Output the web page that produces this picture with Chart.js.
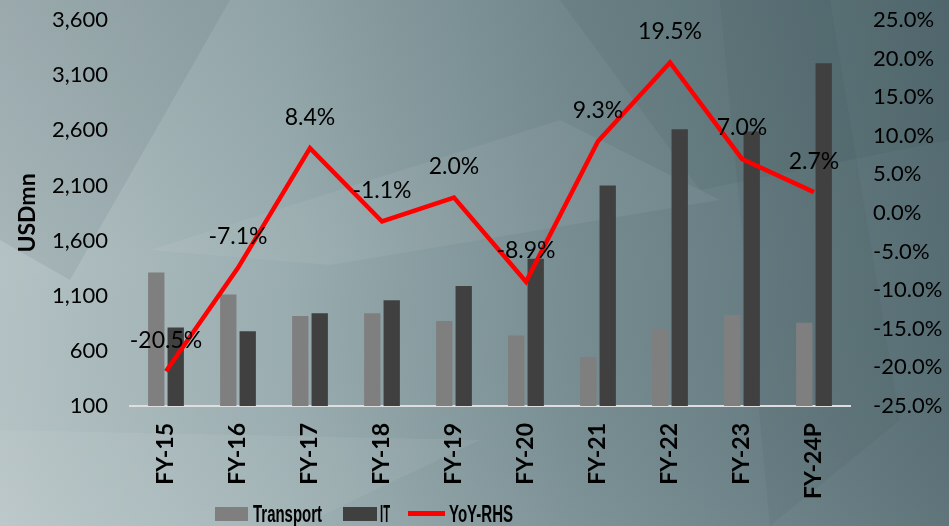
<!DOCTYPE html>
<html>
<head>
<meta charset="utf-8">
<script src="https://cdn.jsdelivr.net/npm/chart.js@4.4.0/dist/chart.umd.min.js"></script>
<style>
html,body{margin:0;padding:0;background:#8fa2a5;}
#wrap{width:949px;height:526px;position:relative;}
</style>
</head>
<body>
<div id="wrap"><canvas id="c" width="949" height="526"></canvas></div>
<script>
const categories = ['FY-15','FY-16','FY-17','FY-18','FY-19','FY-20','FY-21','FY-22','FY-23','FY-24P'];
const transport = [1310, 1110, 915, 940, 870, 740, 545, 800, 925, 855];
const it = [812, 778, 940, 1060, 1188, 1436, 2100, 2610, 2590, 3207];
const yoy = [-20.5, -7.1, 8.4, -1.1, 2.0, -8.9, 9.3, 19.5, 7.0, 2.7];
const yoyLabels = ['-20.5%','-7.1%','8.4%','-1.1%','2.0%','-8.9%','9.3%','19.5%','7.0%','2.7%'];
const leftTicks = [100, 600, 1100, 1600, 2100, 2600, 3100, 3600];
const rightTicks = [-25, -20, -15, -10, -5, 0, 5, 10, 15, 20, 25];

const FONT = 'Lato, "Liberation Sans", sans-serif';
const LEGFONT = '"Liberation Sans", sans-serif';

const bgPlugin = {
  id: 'bg',
  beforeDraw(chart) {
    const ctx = chart.ctx, w = chart.width, h = chart.height;
    ctx.save();
    const g = ctx.createLinearGradient(0, 0, w, 0);
    g.addColorStop(0, '#b4c2c4');
    g.addColorStop(0.3, '#9aadb0');
    g.addColorStop(0.6, '#778d92');
    g.addColorStop(1, '#566d73');
    ctx.fillStyle = g;
    ctx.fillRect(0, 0, w, h);
    const g2 = ctx.createLinearGradient(0, 0, 0, h);
    g2.addColorStop(0, 'rgba(60,80,85,0.12)');
    g2.addColorStop(0.5, 'rgba(60,80,85,0)');
    g2.addColorStop(1, 'rgba(255,255,255,0.06)');
    ctx.fillStyle = g2;
    ctx.fillRect(0, 0, w, h);
    const polys = [
      [[0,0],[230,0],[70,280],[0,240], 'rgba(60,80,85,0.10)'],
      [[150,250],[560,120],[720,200],[330,265], 'rgba(255,255,255,0.06)'],
      [[560,0],[949,0],[949,140],[700,190], 'rgba(40,60,65,0.08)'],
      [[0,430],[480,440],[300,526],[0,526], 'rgba(255,255,255,0.06)'],
      [[720,0],[830,0],[900,420],[770,526], 'rgba(30,50,55,0.06)']
    ];
    polys.forEach(p => {
      ctx.beginPath();
      for (let i = 0; i < p.length - 1; i++) {
        if (i === 0) ctx.moveTo(p[i][0], p[i][1]); else ctx.lineTo(p[i][0], p[i][1]);
      }
      ctx.closePath();
      ctx.fillStyle = p[p.length - 1];
      ctx.fill();
    });
    ctx.restore();
  }
};

const labelPlugin = {
  id: 'yoyLabels',
  afterDatasetsDraw(chart) {
    const meta = chart.getDatasetMeta(2);
    const ctx = chart.ctx;
    ctx.save();
    ctx.font = '23px ' + FONT;
    ctx.fillStyle = '#000';
    ctx.textAlign = 'center';
    ctx.textBaseline = 'middle';
    meta.data.forEach((pt, i) => {
      ctx.fillText(yoyLabels[i], pt.x, pt.y - 31);
    });
    ctx.restore();
  }
};

function condensedText(ctx, text, x, y, width) {
  const m = ctx.measureText(text).width;
  ctx.save();
  ctx.translate(x, y);
  ctx.scale(width / m, 1);
  ctx.fillText(text, 0, 0);
  ctx.restore();
}

const legendPlugin = {
  id: 'customLegend',
  afterDraw(chart) {
    const ctx = chart.ctx;
    const y = 514;
    const ds = chart.data.datasets;
    ctx.save();
    ctx.font = 'bold 24px ' + LEGFONT;
    ctx.textBaseline = 'middle';
    ctx.textAlign = 'left';
    ctx.fillStyle = '#7f7f7f';
    ctx.fillRect(215, y - 7, 33, 14);
    ctx.fillStyle = '#000';
    condensedText(ctx, ds[0].label, 253, y + 1, 69);
    ctx.fillStyle = '#404040';
    ctx.fillRect(343, y - 7, 34, 14);
    ctx.fillStyle = '#000';
    condensedText(ctx, ds[1].label, 380, y + 1, 10);
    ctx.fillStyle = '#ff0000';
    ctx.fillRect(408, y - 3, 37, 5);
    ctx.fillStyle = '#000';
    condensedText(ctx, ds[2].label, 449, y + 1, 64);
    ctx.restore();
  }
};

new Chart(document.getElementById('c'), {
  type: 'bar',
  data: {
    labels: categories,
    datasets: [
      { label: 'Transport', data: transport, backgroundColor: '#7f7f7f', yAxisID: 'y', order: 1,
        barPercentage: 0.84, categoryPercentage: 0.54 },
      { label: 'IT', data: it, backgroundColor: '#404040', yAxisID: 'y', order: 1,
        barPercentage: 0.84, categoryPercentage: 0.54 },
      { type: 'line', label: 'YoY-RHS', data: yoy, borderColor: '#ff0000', backgroundColor: '#ff0000',
        borderWidth: 4.5, pointRadius: 0, tension: 0, yAxisID: 'y1', order: 0 }
    ]
  },
  options: {
    responsive: false,
    animation: false,
    layout: { padding: { top: 20, bottom: 25, left: 0, right: 0 } },
    plugins: { legend: { display: false }, tooltip: { enabled: false } },
    scales: {
      x: {
        grid: { display: false, drawTicks: false },
        border: { display: true, color: '#dedede', width: 2 },
        ticks: { color: '#000', font: { family: FONT, size: 23, weight: 'bold' },
                 minRotation: 90, maxRotation: 90, padding: 17, autoSkip: false },
        afterFit(s) { s.height = 95; }
      },
      y: {
        position: 'left', min: 100, max: 3600,
        afterBuildTicks(s) { s.ticks = leftTicks.map(v => ({ value: v })); },
        grid: { display: false, drawTicks: false },
        border: { display: false },
        ticks: { color: '#000', font: { family: FONT, size: 22 }, padding: 22,
                 callback: v => v.toLocaleString('en-US') },
        title: { display: true, text: 'USDmn', color: '#000',
                 font: { family: FONT, size: 23, weight: 'bold' }, padding: { top: 14, bottom: 0 } },
        afterFit(s) { s.width = 130; s.paddingTop = 0; s.paddingBottom = 0; }
      },
      y1: {
        position: 'right', min: -25, max: 25,
        afterBuildTicks(s) { s.ticks = rightTicks.map(v => ({ value: v })); },
        grid: { display: false, drawTicks: false },
        border: { display: false },
        ticks: { color: '#000', font: { family: FONT, size: 22 }, padding: 23,
                 callback: v => v.toFixed(1) + '%' },
        afterFit(s) { s.width = 99; s.paddingTop = 0; s.paddingBottom = 0; }
      }
    }
  },
  plugins: [bgPlugin, labelPlugin, legendPlugin]
});
</script>
</body>
</html>
